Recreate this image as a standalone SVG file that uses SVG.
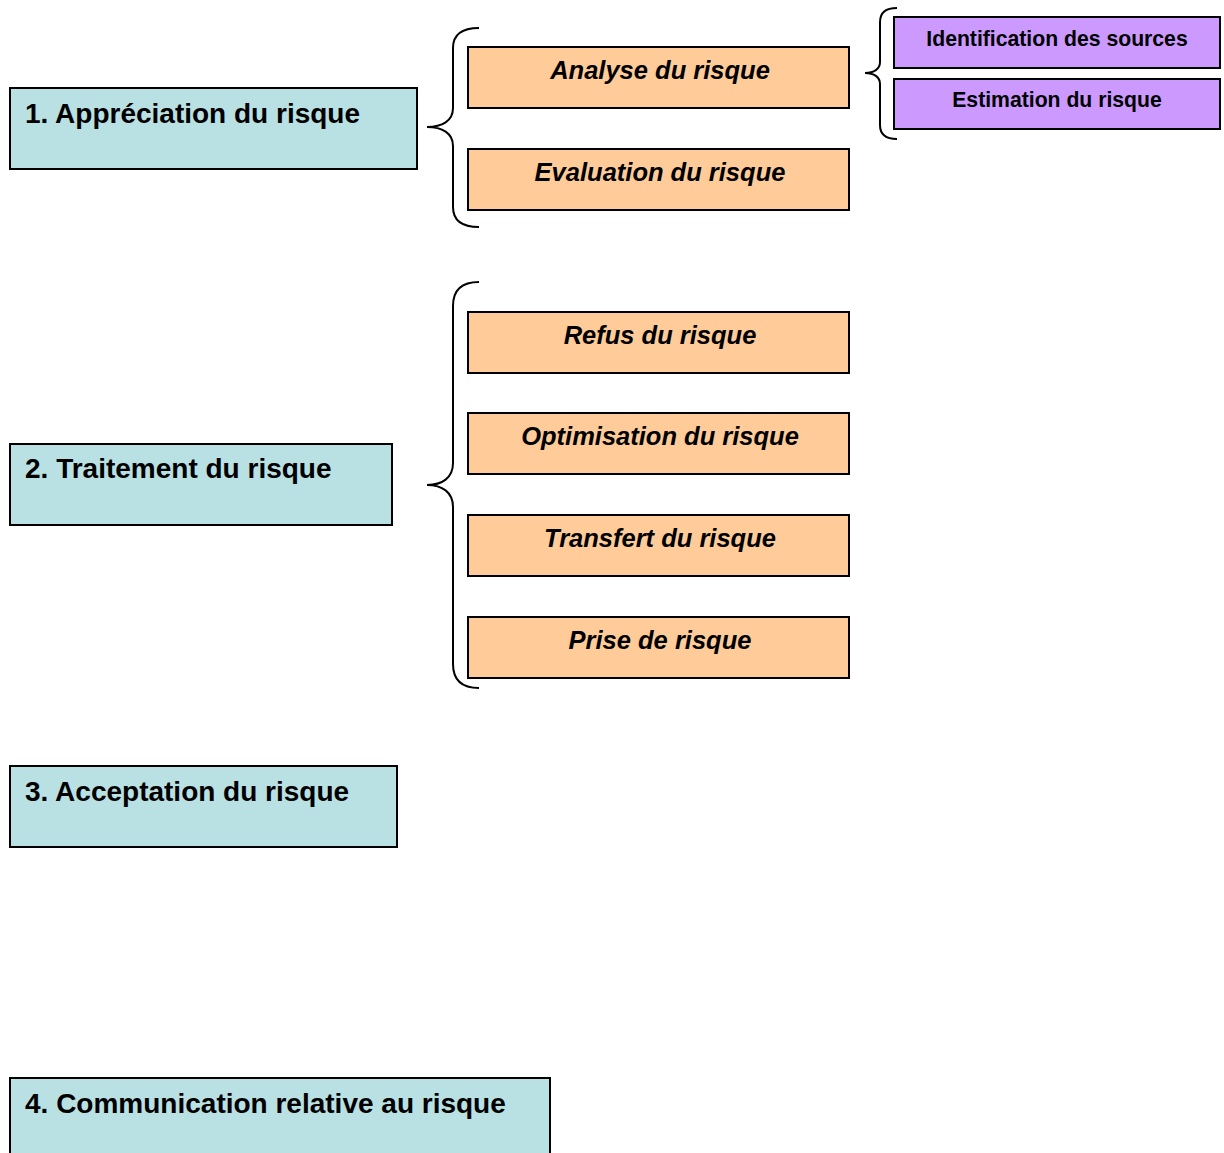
<svg xmlns="http://www.w3.org/2000/svg" width="1224" height="1153" viewBox="0 0 1224 1153">
<style>
.main rect{fill:#B9E0E3;stroke:#000;stroke-width:2}
.main text{font-family:"Liberation Sans",Arial,sans-serif;font-weight:bold;font-size:28px;fill:#000}
.sub rect{fill:#FFCC99;stroke:#000;stroke-width:2}
.sub text{font-family:"Liberation Sans",Arial,sans-serif;font-weight:bold;font-style:italic;font-size:25.5px;fill:#000;text-anchor:middle}
.leaf rect{fill:#CC99FF;stroke:#000;stroke-width:2}
.leaf text{font-family:"Liberation Sans",Arial,sans-serif;font-weight:bold;font-size:21.2px;fill:#000;text-anchor:middle}
.brace{fill:none;stroke:#000;stroke-width:2}
</style>
<rect width="1224" height="1153" fill="#fff"/>
<g id="n1" class="main"><rect x="10" y="88" width="407" height="81"/><text x="25" y="123">1. Appréciation du risque</text></g>
<g id="n2" class="main"><rect x="10" y="444" width="382" height="81"/><text x="25" y="478">2. Traitement du risque</text></g>
<g id="n3" class="main"><rect x="10" y="766" width="387" height="81"/><text x="25" y="801">3. Acceptation du risque</text></g>
<g id="n4" class="main"><rect x="10" y="1078" width="540" height="90"/><text x="25" y="1113">4. Communication relative au risque</text></g>
<g id="analyse" class="sub"><rect x="468" y="47" width="381" height="61"/><text x="660" y="79">Analyse du risque</text></g>
<g id="evaluation" class="sub"><rect x="468" y="149" width="381" height="61"/><text x="660" y="181">Evaluation du risque</text></g>
<g id="refus" class="sub"><rect x="468" y="312" width="381" height="61"/><text x="660" y="344">Refus du risque</text></g>
<g id="optimisation" class="sub"><rect x="468" y="413" width="381" height="61"/><text x="660" y="445">Optimisation du risque</text></g>
<g id="transfert" class="sub"><rect x="468" y="515" width="381" height="61"/><text x="660" y="547">Transfert du risque</text></g>
<g id="prise" class="sub"><rect x="468" y="617" width="381" height="61"/><text x="660" y="649">Prise de risque</text></g>
<g id="identification" class="leaf"><rect x="894" y="17" width="326" height="51"/><text x="1057" y="46">Identification des sources</text></g>
<g id="estimation" class="leaf"><rect x="894" y="79" width="326" height="50"/><text x="1057" y="106.5">Estimation du risque</text></g>
<g id="connectors">
<path class="brace" d="M479 28 C462 28 453 34 453 48 L453 108 C453 121 442 127 427 127 C442 127 453 133 453 146 L453 207 C453 221 462 227 479 227"/>
<path class="brace" d="M479 282 C462 282 453 290 453 306 L453 463 C453 478 442 485 427 485 C442 485 453 492 453 507 L453 664 C453 680 462 688 479 688"/>
<path class="brace" d="M897 8 C886 8 880 12 880 22 L880 62 C880 69 874 73 865 73 C874 73 880 77 880 84 L880 125 C880 135 886 139 897 139"/>
</g>
</svg>
